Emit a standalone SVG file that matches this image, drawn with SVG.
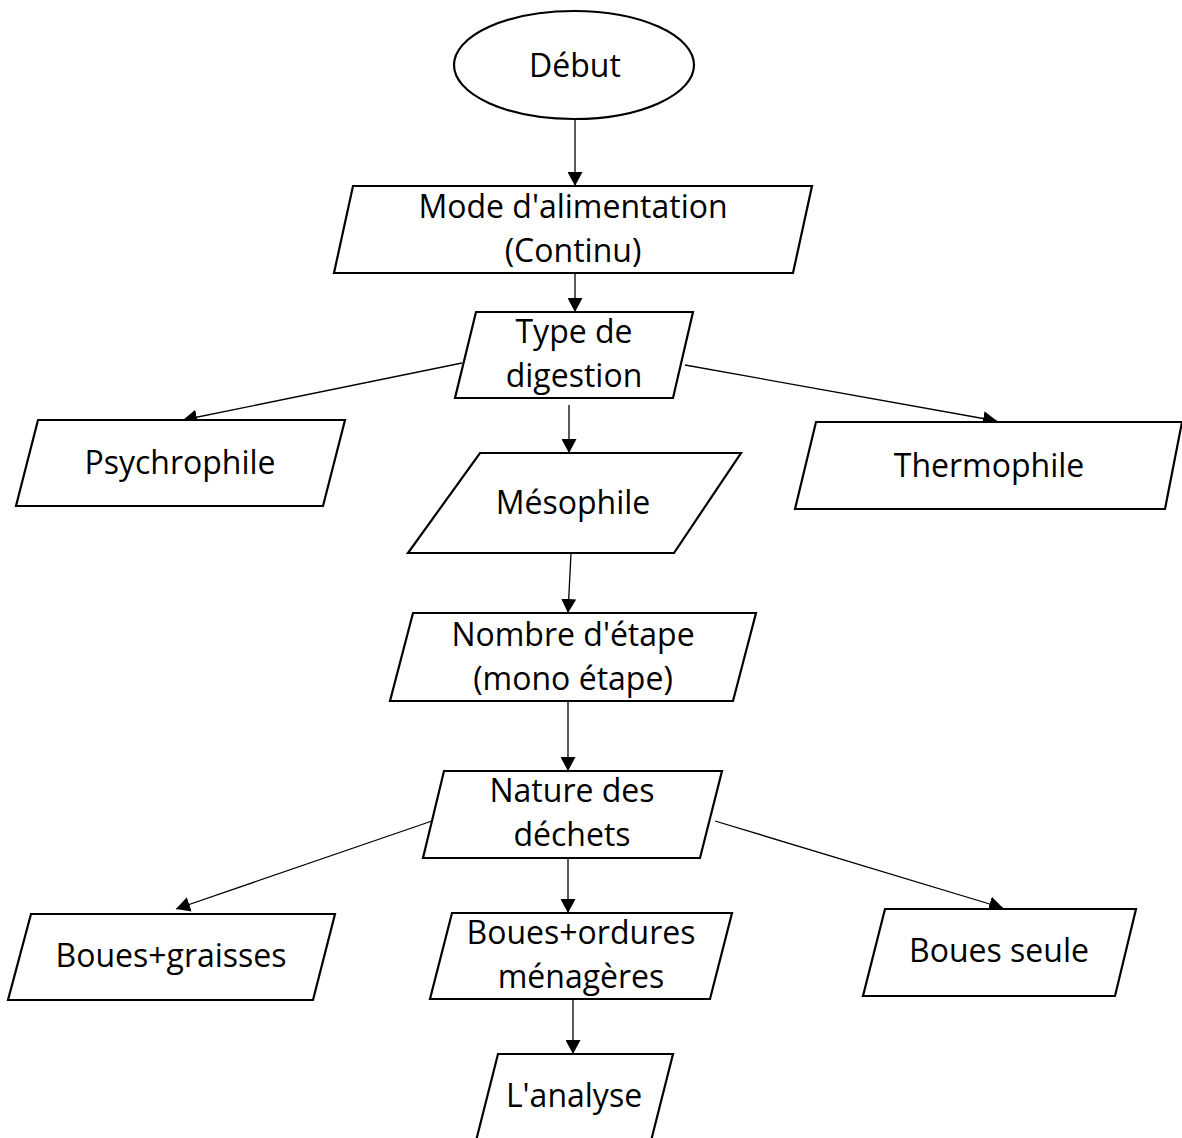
<svg xmlns="http://www.w3.org/2000/svg" width="1182" height="1138" viewBox="0 0 1182 1138">
<style>
.box{fill:#fff;stroke:#000;stroke-width:2.2;stroke-linejoin:miter}
.lbl{font-family:"Open Sans","Noto Sans","Liberation Sans",sans-serif;font-size:32px;fill:#000;text-anchor:middle}
.cn{stroke:#000;stroke-width:1.3;fill:none;marker-end:url(#ah)}
</style>
<defs>
<marker id="ah" markerUnits="userSpaceOnUse" markerWidth="15" markerHeight="15" refX="14" refY="7.5" orient="auto">
<path d="M0,0 L14,7.5 L0,15 z" fill="#000"/>
</marker>
</defs>
<rect width="1182" height="1138" fill="#fff"/>
<g id="connectors">
<line class="cn" x1="575" y1="119" x2="575" y2="186"/>
<line class="cn" x1="575" y1="273" x2="575" y2="312"/>
<line class="cn" x1="462" y1="363" x2="183" y2="420"/>
<line class="cn" x1="685" y1="365" x2="997" y2="421"/>
<line class="cn" x1="569" y1="405" x2="569" y2="453"/>
<line class="cn" x1="571" y1="553" x2="568" y2="613"/>
<line class="cn" x1="568" y1="701" x2="568" y2="771"/>
<line class="cn" x1="432" y1="821" x2="176" y2="909"/>
<line class="cn" x1="568" y1="858" x2="568" y2="913"/>
<line class="cn" x1="715" y1="821" x2="1003" y2="908"/>
<line class="cn" x1="573" y1="999" x2="573" y2="1054"/>
</g>
<g id="debut">
<ellipse class="box" cx="574" cy="65" rx="120" ry="54"/>
<text class="lbl" x="575" y="77">Début</text>
</g>
<g id="mode">
<polygon class="box" points="353,186 812,186 793,273 334,273"/>
<text class="lbl" x="573" y="218">Mode d'alimentation</text>
<text class="lbl" x="573" y="262">(Continu)</text>
</g>
<g id="type">
<polygon class="box" points="476,312 693,312 673,398 455,398"/>
<text class="lbl" x="574" y="343">Type de</text>
<text class="lbl" x="574" y="387">digestion</text>
</g>
<g id="psychrophile">
<polygon class="box" points="38,420 345,420 323,506 16,506"/>
<text class="lbl" x="180" y="474">Psychrophile</text>
</g>
<g id="mesophile">
<polygon class="box" points="480,453 741,453 674,553 408,553"/>
<text class="lbl" x="573" y="514">Mésophile</text>
</g>
<g id="thermophile">
<polygon class="box" points="816,422 1182,422 1165,509 795,509"/>
<text class="lbl" x="989" y="477">Thermophile</text>
</g>
<g id="nombre">
<polygon class="box" points="413,613 756,613 733,701 390,701"/>
<text class="lbl" x="573" y="646">Nombre d'étape</text>
<text class="lbl" x="573" y="690">(mono étape)</text>
</g>
<g id="nature">
<polygon class="box" points="444,771 722,771 700,858 423,858"/>
<text class="lbl" x="572" y="802">Nature des</text>
<text class="lbl" x="572" y="846">déchets</text>
</g>
<g id="graisses">
<polygon class="box" points="31,914 335,914 313,1000 8,1000"/>
<text class="lbl" x="171" y="967">Boues+graisses</text>
</g>
<g id="ordures">
<polygon class="box" points="452,913 732,913 710,999 430,999"/>
<text class="lbl" x="581" y="944">Boues+ordures</text>
<text class="lbl" x="581" y="988">ménagères</text>
</g>
<g id="seule">
<polygon class="box" points="885,909 1136,909 1115,996 863,996"/>
<text class="lbl" x="999" y="962">Boues seule</text>
</g>
<g id="analyse">
<polygon class="box" points="498,1054 673,1054 651,1141 476,1141"/>
<text class="lbl" x="574" y="1107">L'analyse</text>
</g>
</svg>
